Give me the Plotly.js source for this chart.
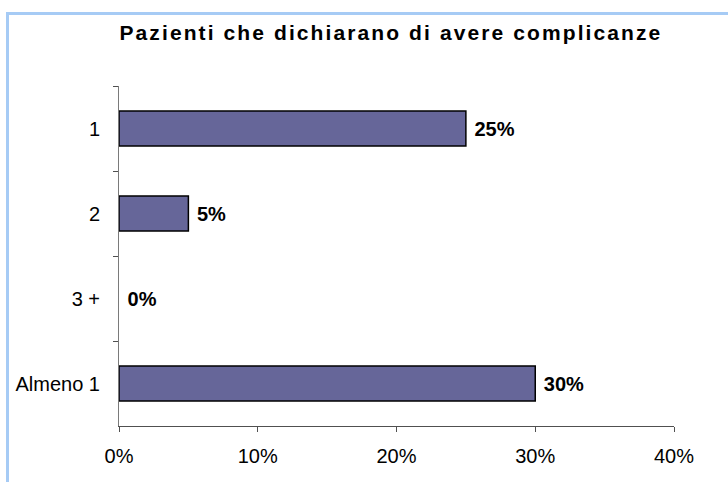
<!DOCTYPE html>
<html>
<head>
<meta charset="utf-8">
<script src="https://cdn.plot.ly/plotly-3.0.1.min.js"></script>
<style>
html,body{margin:0;padding:0;background:#fff;}
#wrap{position:relative;width:728px;height:482px;overflow:hidden;}
#chart{position:absolute;left:0;top:0;width:728px;height:482px;}
#frame{position:absolute;left:6px;top:12px;width:800px;height:600px;border-left:3px solid #A6CBF5;border-top:3px solid #A6CBF5;pointer-events:none;}
#chart .gtitle{letter-spacing:2.1px;}
</style>
</head>
<body>
<div id="wrap"><div id="chart"></div><div id="frame"></div></div>
<script>
const categories = ["1", "2", "3 +", "Almeno 1"];
const values = [25, 5, 0, 30];
const valueLabels = ["25%", "5%", "0%", "30%"];
const xTickVals = [0, 10, 20, 30, 40];
const xTickText = ["0%", "10%", "20%", "30%", "40%"];
const titleText = "Pazienti che dichiarano di avere complicanze";

const FONT = "Liberation Sans, Arial, sans-serif";

const trace = {
  type: "bar",
  orientation: "h",
  y: categories,
  x: values,
  text: valueLabels.map(t => "\u00a0" + t),
  textposition: "outside",
  cliponaxis: false,
  textfont: {family: FONT, size: 20, color: "#000", weight: "bold"},
  marker: {color: "#666699", line: {color: "#000", width: values.map(v => v > 0 ? 1.5 : 0)}},
  width: 0.41,
  hoverinfo: "none"
};

const layout = {
  width: 728, height: 482,
  margin: {l: 119, r: 54, t: 86, b: 56},
  paper_bgcolor: "rgba(0,0,0,0)",
  plot_bgcolor: "rgba(0,0,0,0)",
  showlegend: false,
  title: {
    text: "<b>" + titleText + "</b>",
    font: {family: FONT, size: 21, color: "#000"},
    x: 0.537, xanchor: "center", y: 0.932, yanchor: "middle"
  },
  xaxis: {
    range: [0, 40],
    tickvals: xTickVals, ticktext: xTickText,
    showgrid: false, zeroline: false,
    showline: true, linecolor: "#505050", linewidth: 1,
    ticks: "outside", ticklen: 5, tickcolor: "#505050",
    tickfont: {family: FONT, size: 20, color: "#000"},
    ticklabelstandoff: 7,
    fixedrange: true
  },
  yaxis: {
    type: "category",
    categoryorder: "array", categoryarray: categories,
    autorange: "reversed",
    showgrid: false, zeroline: false,
    showline: true, linecolor: "#7a7a7a", linewidth: 1,
    ticks: "outside", ticklen: 5, tickcolor: "#505050",
    tickson: "boundaries",
    tickfont: {family: FONT, size: 20, color: "#000"},
    ticklabelstandoff: 14,
    fixedrange: true
  }
};

Plotly.newPlot("chart", [trace], layout, {displayModeBar: false, staticPlot: true});
</script>
</body>
</html>
